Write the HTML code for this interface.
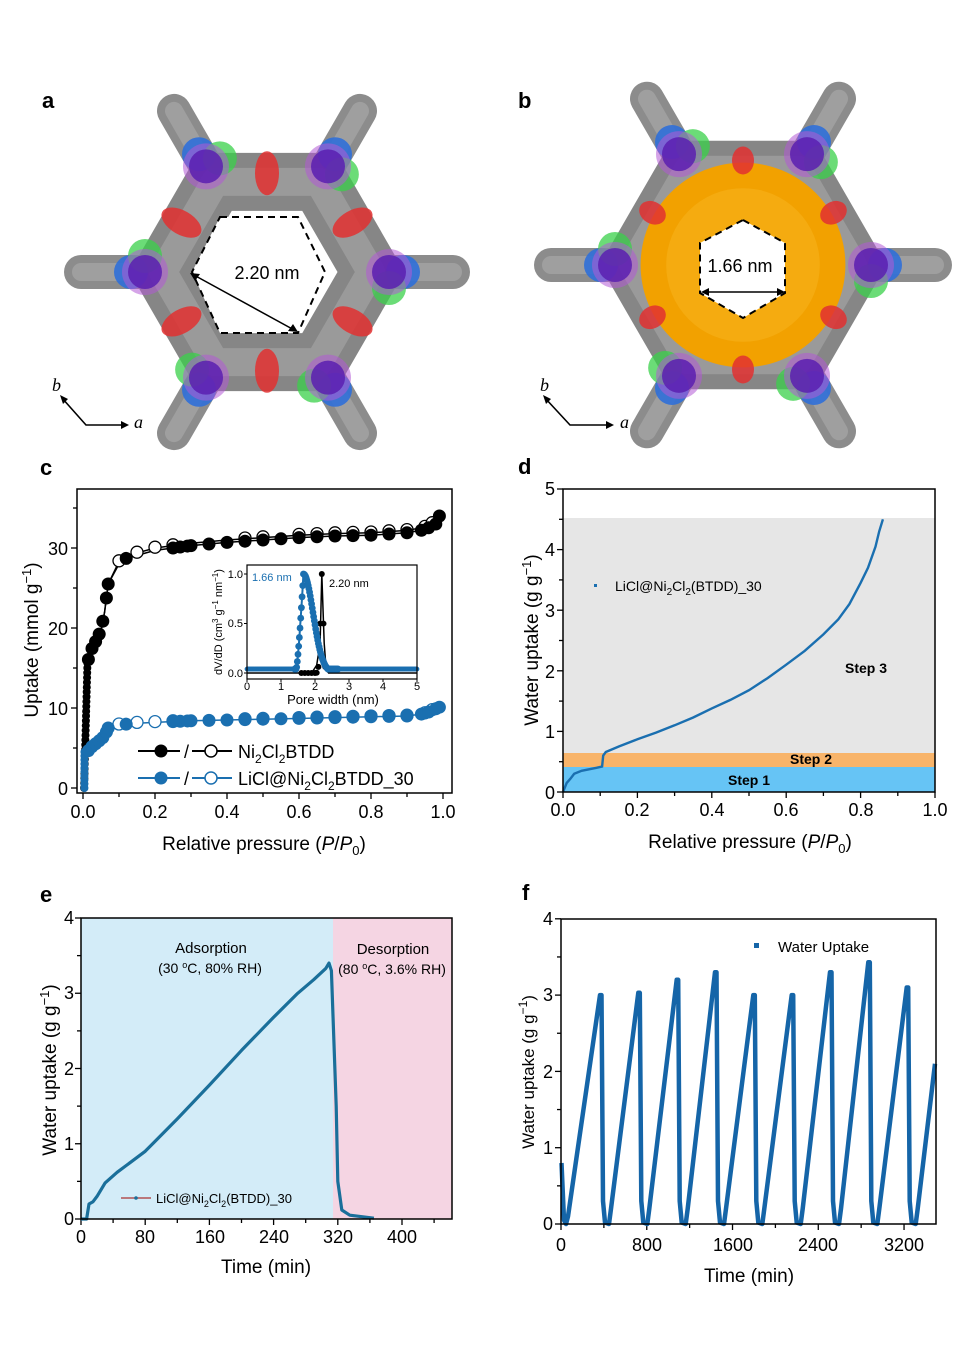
<!DOCTYPE html>
<html><head><meta charset="utf-8"><style>
html,body{margin:0;padding:0;background:#fff;}
svg{display:block;font-family:"Liberation Sans",Arial,sans-serif;}
</style></head><body>
<svg id="s" width="966" height="1366" viewBox="0 0 966 1366" xmlns="http://www.w3.org/2000/svg">
<rect width="966" height="1366" fill="#fff"/>
<g id="structA"></g>
<g id="structB"></g>
<g font-weight="bold" font-size="22" fill="#000">
<text x="42" y="108">a</text><text x="518" y="108">b</text>
<text x="40" y="475">c</text><text x="518" y="474">d</text>
<text x="40" y="902">e</text><text x="522" y="900">f</text>
</g>
<text x="267" y="279" font-size="18" text-anchor="middle">2.20 nm</text>
<text x="740" y="272" font-size="18" text-anchor="middle">1.66 nm</text>
<g font-family="Liberation Serif,serif" font-style="italic" font-size="18">
<text x="52" y="391">b</text><text x="134" y="428">a</text>
<text x="540" y="391">b</text><text x="620" y="428">a</text>
</g>
<g stroke="#000" stroke-width="1.6" fill="none">
<polyline points="62,398 86,425 125,425"/><polyline points="545,398 570,425 610,425"/>
</g>
<g fill="#000"><polygon points="60,395 68,399 63,404"/><polygon points="129,425 121,421 121,429"/>
<polygon points="543,395 551,399 546,404"/><polygon points="614,425 606,421 606,429"/></g>

<g id="pc"></g>
<rect x="77" y="489" width="375" height="304" fill="none" stroke="#000" stroke-width="1.5"/>
<g font-size="18" text-anchor="middle">
<text x="83" y="818">0.0</text><text x="155" y="818">0.2</text><text x="227" y="818">0.4</text><text x="299" y="818">0.6</text><text x="371" y="818">0.8</text><text x="443" y="818">1.0</text>
</g>
<g font-size="18" text-anchor="end">
<text x="68" y="795">0</text><text x="68" y="715">10</text><text x="68" y="635">20</text><text x="68" y="555">30</text>
</g>
<text x="264" y="850" font-size="19" text-anchor="middle">Relative pressure (<tspan font-style="italic">P</tspan>/<tspan font-style="italic">P</tspan><tspan font-size="13" dy="5">0</tspan><tspan dy="-5">)</tspan></text>
<text transform="translate(38,640) rotate(-90)" font-size="19" text-anchor="middle">Uptake (mmol g<tspan font-size="13" dy="-7">−1</tspan><tspan dy="7">)</tspan></text>
<g font-size="18">
<text x="238" y="758">Ni<tspan font-size="12" dy="5">2</tspan><tspan dy="-5">Cl</tspan><tspan font-size="12" dy="5">2</tspan><tspan dy="-5">BTDD</tspan></text>
<text x="238" y="785">LiCl@Ni<tspan font-size="12" dy="5">2</tspan><tspan dy="-5">Cl</tspan><tspan font-size="12" dy="5">2</tspan><tspan dy="-5">BTDD_30</tspan></text>
<text x="184" y="758">/</text><text x="184" y="785">/</text>
</g>
<g stroke-width="2"><line x1="138" y1="751" x2="180" y2="751" stroke="#000"/><line x1="192" y1="751" x2="232" y2="751" stroke="#000"/>
<line x1="138" y1="778" x2="180" y2="778" stroke="#1a6fb0"/><line x1="192" y1="778" x2="232" y2="778" stroke="#1a6fb0"/></g>
<circle cx="161" cy="751" r="6.5" fill="#000"/><circle cx="211" cy="751" r="6" fill="#fff" stroke="#000" stroke-width="1.5"/>
<circle cx="161" cy="778" r="6.5" fill="#1a6fb0"/><circle cx="211" cy="778" r="6" fill="#fff" stroke="#1a6fb0" stroke-width="1.5"/>
<rect x="247" y="565" width="170" height="114" fill="#fff"/>
<g id="inset"></g>
<rect x="247" y="565" width="170" height="114" fill="none" stroke="#000" stroke-width="1.2"/>
<g font-size="11" text-anchor="middle">
<text x="247" y="690">0</text><text x="281" y="690">1</text><text x="315" y="690">2</text><text x="349" y="690">3</text><text x="383" y="690">4</text><text x="417" y="690">5</text>
</g>
<g font-size="11" text-anchor="end"><text x="243" y="677">0.0</text><text x="243" y="627">0.5</text><text x="243" y="578">1.0</text></g>
<text x="333" y="704" font-size="13" text-anchor="middle">Pore width (nm)</text>
<text transform="translate(222,622) rotate(-90)" font-size="11" text-anchor="middle">dV/dD (cm<tspan font-size="8" dy="-4">3</tspan><tspan dy="4"> g</tspan><tspan font-size="8" dy="-4">−1</tspan><tspan dy="4"> nm</tspan><tspan font-size="8" dy="-4">−1</tspan><tspan dy="4">)</tspan></text>
<text x="252" y="581" font-size="11" fill="#1a6fb0">1.66 nm</text>
<text x="329" y="587" font-size="11">2.20 nm</text>

<rect x="563" y="518" width="372" height="235" fill="#e6e6e6"/>
<rect x="563" y="753" width="372" height="14" fill="#f8b46a"/>
<rect x="563" y="767" width="372" height="25" fill="#66c4f5"/>
<g id="pd"></g>
<rect x="563" y="489" width="372" height="303" fill="none" stroke="#000" stroke-width="1.5"/>
<g font-size="18" text-anchor="middle">
<text x="563" y="816">0.0</text><text x="637" y="816">0.2</text><text x="712" y="816">0.4</text><text x="786" y="816">0.6</text><text x="861" y="816">0.8</text><text x="935" y="816">1.0</text>
</g>
<g font-size="18" text-anchor="end">
<text x="555" y="799">0</text><text x="555" y="738">1</text><text x="555" y="678">2</text><text x="555" y="617">3</text><text x="555" y="556">4</text><text x="555" y="495">5</text>
</g>
<text x="750" y="848" font-size="19" text-anchor="middle">Relative pressure (<tspan font-style="italic">P</tspan>/<tspan font-style="italic">P</tspan><tspan font-size="13" dy="5">0</tspan><tspan dy="-5">)</tspan></text>
<text transform="translate(538,640) rotate(-90)" font-size="19" text-anchor="middle">Water uptake (g g<tspan font-size="13" dy="-7">−1</tspan><tspan dy="7">)</tspan></text>
<g font-size="14" font-weight="bold" text-anchor="middle"><text x="866" y="673">Step 3</text><text x="811" y="764">Step 2</text><text x="749" y="785">Step 1</text></g>
<rect x="594" y="584" width="3" height="3" fill="#1a6fb0"/>
<text x="615" y="591" font-size="14">LiCl@Ni<tspan font-size="10" dy="4">2</tspan><tspan dy="-4">Cl</tspan><tspan font-size="10" dy="4">2</tspan><tspan dy="-4">(BTDD)_30</tspan></text>

<rect x="81" y="918" width="252" height="301" fill="#d3ecf8"/>
<rect x="333" y="918" width="119" height="301" fill="#f5d5e3"/>
<g id="pe"></g>
<rect x="81" y="918" width="371" height="301" fill="none" stroke="#000" stroke-width="1.5"/>
<g font-size="18" text-anchor="middle">
<text x="81" y="1243">0</text><text x="145" y="1243">80</text><text x="210" y="1243">160</text><text x="274" y="1243">240</text><text x="338" y="1243">320</text><text x="402" y="1243">400</text>
</g>
<g font-size="18" text-anchor="end">
<text x="74" y="1225">0</text><text x="74" y="1150">1</text><text x="74" y="1075">2</text><text x="74" y="999">3</text><text x="74" y="924">4</text>
</g>
<text x="266" y="1273" font-size="19" text-anchor="middle">Time (min)</text>
<text transform="translate(56,1070) rotate(-90)" font-size="19" text-anchor="middle">Water uptake (g g<tspan font-size="13" dy="-7">−1</tspan><tspan dy="7">)</tspan></text>
<text x="211" y="953" font-size="15" text-anchor="middle">Adsorption</text>
<text x="210" y="973" font-size="14" text-anchor="middle">(30 <tspan font-size="9" dy="-5">o</tspan><tspan dy="5">C, 80% RH)</tspan></text>
<text x="393" y="954" font-size="15" text-anchor="middle">Desorption</text>
<text x="392" y="974" font-size="14" text-anchor="middle">(80 <tspan font-size="9" dy="-5">o</tspan><tspan dy="5">C, 3.6% RH)</tspan></text>
<line x1="121" y1="1198" x2="151" y2="1198" stroke="#a33" stroke-width="1.2"/><circle cx="136" cy="1198" r="1.8" fill="#1a6f9a"/>
<text x="156" y="1203" font-size="13">LiCl@Ni<tspan font-size="9" dy="4">2</tspan><tspan dy="-4">Cl</tspan><tspan font-size="9" dy="4">2</tspan><tspan dy="-4">(BTDD)_30</tspan></text>

<g id="pf"></g>
<rect x="561" y="919" width="375" height="305" fill="none" stroke="#000" stroke-width="1.5"/>
<g font-size="18" text-anchor="middle">
<text x="561" y="1251">0</text><text x="647" y="1251">800</text><text x="733" y="1251">1600</text><text x="818" y="1251">2400</text><text x="904" y="1251">3200</text>
</g>
<g font-size="18" text-anchor="end">
<text x="553" y="1230">0</text><text x="553" y="1154">1</text><text x="553" y="1078">2</text><text x="553" y="1001">3</text><text x="553" y="925">4</text>
</g>
<text x="749" y="1282" font-size="19" text-anchor="middle">Time (min)</text>
<text transform="translate(534,1072) rotate(-90)" font-size="17" text-anchor="middle">Water uptake (g g<tspan font-size="12" dy="-7">−1</tspan><tspan dy="7">)</tspan></text>
<rect x="754" y="943" width="5" height="5" fill="#1565a8"/>
<text x="778" y="952" font-size="15">Water Uptake</text>
</svg>
<script>
var NS="http://www.w3.org/2000/svg";
function el(p,t,a){var e=document.createElementNS(NS,t);for(var k in a)e.setAttribute(k,a[k]);document.getElementById(p).appendChild(e);return e;}
function pl(p,pts,a){a.points=pts.map(function(q){return q[0].toFixed(1)+","+q[1].toFixed(1)}).join(" ");a.fill=a.fill||"none";return el(p,"polyline",a);}
function struct(g,cx,cy,R,Rr,orange){
  var V=[];for(var i=0;i<6;i++){var a=Math.PI/180*(i*60);V.push([cx+R*Math.cos(a),cy+R*Math.sin(a),a]);}
  V.forEach(function(v){var x2=v[0]+64*Math.cos(v[2]),y2=v[1]+64*Math.sin(v[2]);
    el(g,"line",{x1:v[0],y1:v[1],x2:x2,y2:y2,stroke:"#8c8c8c","stroke-width":34,"stroke-linecap":"round"});
    el(g,"line",{x1:v[0],y1:v[1],x2:x2,y2:y2,stroke:"#a8a8a8","stroke-width":18,"stroke-linecap":"round",opacity:0.7});});
  var pts=[];for(var i=0;i<6;i++){var a=Math.PI/180*(i*60);pts.push((cx+Rr*Math.cos(a))+","+(cy+Rr*Math.sin(a)));}
  pts=pts.join(" ");
  el(g,"polygon",{points:pts,fill:"none",stroke:"#868686","stroke-width":58,"stroke-linejoin":"round"});
  el(g,"polygon",{points:pts,fill:"none",stroke:"#a2a2a2","stroke-width":28,"stroke-linejoin":"round",opacity:0.7});
  if(orange){el(g,"circle",{cx:cx,cy:cy,r:R*0.8,fill:"#f2a100"});el(g,"circle",{cx:cx,cy:cy,r:R*0.6,fill:"#f7b21a",opacity:0.6});}
  for(var i=0;i<6;i++){var a=Math.PI/180*(i*60+30);var r=Rr*0.95;var x=cx+r*Math.cos(a),y=cy+r*Math.sin(a);
    el(g,"ellipse",{cx:x,cy:y,rx:orange?14:22,ry:orange?11:12,fill:"#e23030",opacity:0.85,transform:"rotate("+(i*60+30)+" "+x+" "+y+")"});}
  V.forEach(function(v,i){var ox=Math.cos(v[2]),oy=Math.sin(v[2]);
    el(g,"circle",{cx:v[0]+ox*14,cy:v[1]+oy*14,r:17,fill:"#2f6fd8",opacity:0.9});
    el(g,"circle",{cx:v[0]-oy*16,cy:v[1]+ox*16,r:17,fill:"#39d04a",opacity:0.75});
    el(g,"circle",{cx:v[0],cy:v[1],r:23,fill:"#b25ad6",opacity:0.55});
    el(g,"circle",{cx:v[0],cy:v[1],r:17,fill:"#5a1fb0",opacity:0.85});});
}
struct("structA",267,272,122,104,false);
struct("structB",743,265,128,110,true);
(function(){var p=[[220,217],[298,217],[325,272],[298,333],[220,333],[192,272]];
el("structA","polygon",{points:p.join(" "),fill:"#fff",stroke:"#000","stroke-width":2,"stroke-dasharray":"7,5"});
el("structA","line",{x1:192,y1:274,x2:296,y2:331,stroke:"#000","stroke-width":1.5});
el("structA","polygon",{points:"190,273 200,274 195,281",fill:"#000"});el("structA","polygon",{points:"298,332 288,331 293,324",fill:"#000"});
var q=[[743,220],[785,243],[785,293],[743,318],[700,293],[700,243]];
el("structB","polygon",{points:q.join(" "),fill:"#fff",stroke:"#000","stroke-width":2,"stroke-dasharray":"7,5"});
el("structB","line",{x1:703,y1:292,x2:783,y2:292,stroke:"#000","stroke-width":1.5});
el("structB","polygon",{points:"701,292 709,288 709,296",fill:"#000"});el("structB","polygon",{points:"785,292 777,288 777,296",fill:"#000"});})();
function cx(p){return 83+360*p}function cy(v){return 788-8*v}
for(var v=0;v<=35;v+=5)el("pc","line",{x1:77,y1:cy(v),x2:(v%10?73:71),y2:cy(v),stroke:"#000","stroke-width":1.3});
for(var p=0;p<=1.001;p+=0.1)el("pc","line",{x1:cx(p),y1:793,x2:cx(p),y2:(Math.round(p*10)%2?797:799),stroke:"#000","stroke-width":1.3});
var blk=[[0.003,0],[0.005,10],[0.008,14],[0.012,15.5],[0.02,17],[0.035,18.3],[0.05,19.7],[0.06,22],[0.07,25.5],[0.1,28],[0.12,28.7],[0.2,29.7],[0.25,30],[0.3,30.3],[0.4,30.7],[0.5,31],[0.6,31.3],[0.7,31.5],[0.8,31.6],[0.9,31.9],[0.95,32.3],[0.98,33],[0.99,34]];
var blu=[[0.003,0],[0.005,4],[0.02,5],[0.04,5.7],[0.06,6.5],[0.07,7.5],[0.1,7.9],[0.15,8.1],[0.2,8.2],[0.3,8.4],[0.5,8.6],[0.7,8.8],[0.9,9],[0.95,9.3],[0.99,10.1]];
function interp(arr,p){for(var i=1;i<arr.length;i++)if(p<=arr[i][0]){var a=arr[i-1],b=arr[i];return a[1]+(b[1]-a[1])*(p-a[0])/(b[0]-a[0]);}return arr[arr.length-1][1];}
pl("pc",blk.map(function(q){return[cx(q[0]),cy(q[1])]}),{stroke:"#000","stroke-width":1.5});
pl("pc",blk.map(function(q){return[cx(q[0]),cy(q[1]+ (q[0]>0.09?0.3:0))]}),{stroke:"#000","stroke-width":1.5});
pl("pc",blu.map(function(q){return[cx(q[0]),cy(q[1])]}),{stroke:"#1a6fb0","stroke-width":1.5});
for(var v=0;v<16;v+=0.6)el("pc","circle",{cx:cx(0.003+v*0.0006),cy:cy(v),r:4,fill:"#000"});
for(var v=0;v<5;v+=0.5)el("pc","circle",{cx:cx(0.004),cy:cy(v),r:4,fill:"#1a6fb0"});
[0.1,0.15,0.2,0.25,0.45,0.5,0.6,0.65,0.7,0.75,0.8,0.85,0.9,0.95,0.97].forEach(function(p){el("pc","circle",{cx:cx(p),cy:cy(interp(blk,p)+0.4),r:6,fill:"#fff",stroke:"#000","stroke-width":1.3});el("pc","circle",{cx:cx(p),cy:cy(interp(blu,p)+0.1),r:6,fill:"#fff",stroke:"#1a6fb0","stroke-width":1.3});});
[0.015,0.025,0.035,0.045,0.055,0.065,0.07,0.12,0.25,0.27,0.29,0.3,0.35,0.4,0.45,0.5,0.55,0.6,0.65,0.7,0.75,0.8,0.85,0.9,0.94,0.96,0.98,0.99].forEach(function(p){el("pc","circle",{cx:cx(p),cy:cy(interp(blk,p)),r:6.5,fill:"#000"});el("pc","circle",{cx:cx(p),cy:cy(interp(blu,p)),r:6.5,fill:"#1a6fb0"});});
function ix(w){return 247+34*w}function iy(v){return 673-99*v}
[0,0.5,1].forEach(function(v){el("inset","line",{x1:247,y1:iy(v),x2:244,y2:iy(v),stroke:"#000"})});
[0,1,2,3,4,5].forEach(function(w){el("inset","line",{x1:ix(w),y1:679,x2:ix(w),y2:682,stroke:"#000"})});
pl("inset",[[ix(0),iy(0)],[ix(1.9),iy(0)],[ix(2.05),iy(0.08)],[ix(2.15),iy(0.3)],[ix(2.2),iy(1)],[ix(2.27),iy(0.3)],[ix(2.33),iy(0.03)],[ix(2.4),iy(0)],[ix(5),iy(0)]],{stroke:"#000","stroke-width":1.5});
[1.6,1.7,1.8,1.9,2.0,2.05,2.1,2.15,2.2,2.25,2.3].forEach(function(w){var v=Math.exp(-Math.pow((w-2.2)/0.06,2));el("inset","circle",{cx:ix(w),cy:iy(v),r:3,fill:"#000"});});
var ib=[];for(var w=0;w<=5;w+=0.02){var v;if(w<1.45)v=0.04;else if(w<1.66)v=0.04+0.96*Math.pow((w-1.45)/0.21,1.3);else v=Math.max(0.04,Math.exp(-Math.pow((w-1.66)/0.4,2)));ib.push([w,v]);}
pl("inset",ib.map(function(q){return[ix(q[0]),iy(q[1])]}),{stroke:"#1a6fb0","stroke-width":2});
ib.forEach(function(q){el("inset","circle",{cx:ix(q[0]),cy:iy(q[1]),r:q[0]>1.4&&q[0]<2.7?3.4:2.4,fill:"#1a6fb0"});});
function dx(p){return 563+372*p}function dy(v){return 792-60.6*v}
for(var v=0;v<=5;v+=0.5)el("pd","line",{x1:563,y1:dy(v),x2:(v%1?559:557),y2:dy(v),stroke:"#000","stroke-width":1.3});
for(var i=0;i<=10;i++)el("pd","line",{x1:dx(i/10),y1:792,x2:dx(i/10),y2:(i%2?796:798),stroke:"#000","stroke-width":1.3});
var dd=[[0,0],[0.01,0.15],[0.02,0.22],[0.03,0.3],[0.05,0.35],[0.09,0.4],[0.105,0.42],[0.108,0.6],[0.115,0.66],[0.15,0.75],[0.2,0.87],[0.25,0.98],[0.3,1.1],[0.35,1.23],[0.4,1.38],[0.45,1.52],[0.5,1.68],[0.55,1.88],[0.6,2.1],[0.65,2.33],[0.7,2.6],[0.74,2.85],[0.77,3.1],[0.8,3.45],[0.82,3.7],[0.84,4.05],[0.85,4.3],[0.86,4.5]];
pl("pd",dd.map(function(q){return[dx(q[0]),dy(q[1])]}),{stroke:"#1a6fb0","stroke-width":2.4});
function ex(t){return 81+0.8025*t}function ey(v){return 1219-75.25*v}
for(var v=0;v<=4;v+=0.5)el("pe","line",{x1:81,y1:ey(v),x2:(v%1?77:75),y2:ey(v),stroke:"#000","stroke-width":1.3});
for(var t=0;t<=440;t+=40)el("pe","line",{x1:ex(t),y1:1219,x2:ex(t),y2:(t%80?1223:1225),stroke:"#000","stroke-width":1.3});
var ed=[[0,0],[7,0],[10,0.2],[15,0.23],[20,0.3],[30,0.48],[45,0.62],[60,0.74],[80,0.9],[120,1.33],[160,1.78],[200,2.24],[240,2.68],[270,3.0],[290,3.18],[305,3.33],[309,3.4],[312,3.3],[318,1.5],[320,0.5],[325,0.12],[335,0.05],[365,0.01]];
pl("pe",ed.map(function(q){return[ex(q[0]),ey(q[1])]}),{stroke:"#1a6f9a","stroke-width":3.2,"stroke-linejoin":"round"});
function fy(v){return 1224-76.3*v}
for(var v=0;v<=4;v+=0.5)el("pf","line",{x1:561,y1:fy(v),x2:(v%1?557:555),y2:fy(v),stroke:"#000","stroke-width":1.3});
for(var t=0;t<=3400;t+=400)el("pf","line",{x1:561+0.1072*t,y1:1224,x2:561+0.1072*t,y2:(t%800?1228:1230),stroke:"#000","stroke-width":1.3});
var pk=[600,638.3,676.7,715,753.3,791.7,830,868.3,906.7],pv=[3.0,3.03,3.2,3.3,3.0,3.0,3.3,3.43,3.1];
var fd=[[561.5,0.8],[564,0.05],[566,0],[568,0.1]];
pk.forEach(function(x,i){fd.push([x,pv[i]]);fd.push([x+1.5,pv[i]]);fd.push([x+3,0.3]);fd.push([x+5,0.02]);fd.push([x+9,0]);fd.push([x+11,0.2]);});
fd.push([935,2.1]);
pl("pf",fd.map(function(q){return[q[0],fy(q[1])]}),{stroke:"#1565a8","stroke-width":4.5,"stroke-linejoin":"round"});
</script>
</body></html>
